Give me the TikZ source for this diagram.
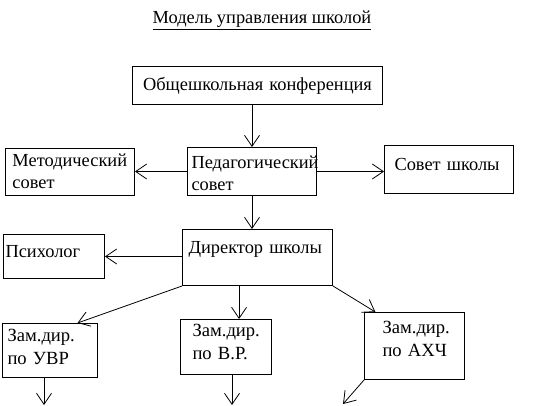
\documentclass[tikz,border=0pt]{standalone}
\usepackage{fontspec}
\setmainfont{Liberation Serif}
\usetikzlibrary{arrows.meta}

\tikzset{
  orgbox/.style={draw, line width=1pt, anchor=north west, inner ysep=0pt, align=left},
  big/.style={font=\fontsize{18.4}{22}\selectfont},
  small/.style={font=\fontsize{18.6}{23}\selectfont},
  link/.style={->, line width=0.8pt},
}

\begin{document}
\begin{tikzpicture}[x=1pt, y=-1pt, >={Straight Barb[length=11pt,width=15pt]}]
%\draw[help lines] (0,0) grid[step=20] (540,406);
\useasboundingbox (0,0) rectangle (540,406);

\node [anchor=base, font=\fontsize{18.4}{22}\selectfont] (title) at (262,24) {\underline{Модель управления школой}};

\node [orgbox, big, align=center, inner xsep=0pt, text width=250pt, text height=24pt, text depth=14pt] (conf) at (132,66) {Общешкольная конференция};
\node [orgbox, big, inner xsep=4pt, text width=121pt, text height=21pt, text depth=27pt] (ped) at (187,147) {Педагогический\\совет};
\node [orgbox, big, inner xsep=7pt, text width=115pt, text height=18pt, text depth=29pt] (met) at (5,148) {Методический\\совет};
\node [orgbox, big, inner xsep=10pt, text width=109pt, text height=25pt, text depth=23pt] (sov) at (384,145) {Совет школы};
\node [orgbox, big, inner xsep=6pt, text width=138pt, text height=24pt, text depth=32pt] (dir) at (182,229) {Директор школы};
\node [orgbox, big, inner xsep=2pt, text width=97pt, text height=23pt, text depth=21pt] (psy) at (3,234) {Психолог};

\node [orgbox, small, inner xsep=5pt, text width=85pt, text height=18pt, text depth=36pt] (uvr) at (2,323) {Зам.дир.\\по~УВР};
\node [orgbox, small, inner xsep=12pt, text width=67pt, text height=17pt, text depth=38pt] (vr) at (180,319) {Зам.дир.\\по~В.Р.};
\node [orgbox, small, inner xsep=18pt, text width=64pt, text height=21pt, text depth=46pt] (ahch) at (364,312) {Зам.дир.\\по~АХЧ};

\coordinate (uvr-out) at (44,405);
\coordinate (vr-out) at (232,405);
\coordinate (ahch-out) at (343,404);

\draw [link] (conf.south -| ped.north) -- (ped.north);
\draw [link] (ped.west) -- (ped.west -| met.east);
\draw [link] (ped.east) -- (ped.east -| sov.west);
\draw [link] (ped.south) -- (ped.south |- dir.north);
\draw [link] (psy.east -| dir.west) -- (psy.east);

\draw [link] (dir.south west) -- (uvr.45);
\draw [link] (vr.65 |- dir.south) -- (vr.65);
\draw [link] (dir.south east) -- (ahch.139);

\draw [link] (uvr-out |- uvr.south) -- (uvr-out);
\draw [link] (vr-out |- vr.south) -- (vr-out);
\draw [link] (ahch.south west) -- (ahch-out);

\end{tikzpicture}
\end{document}
